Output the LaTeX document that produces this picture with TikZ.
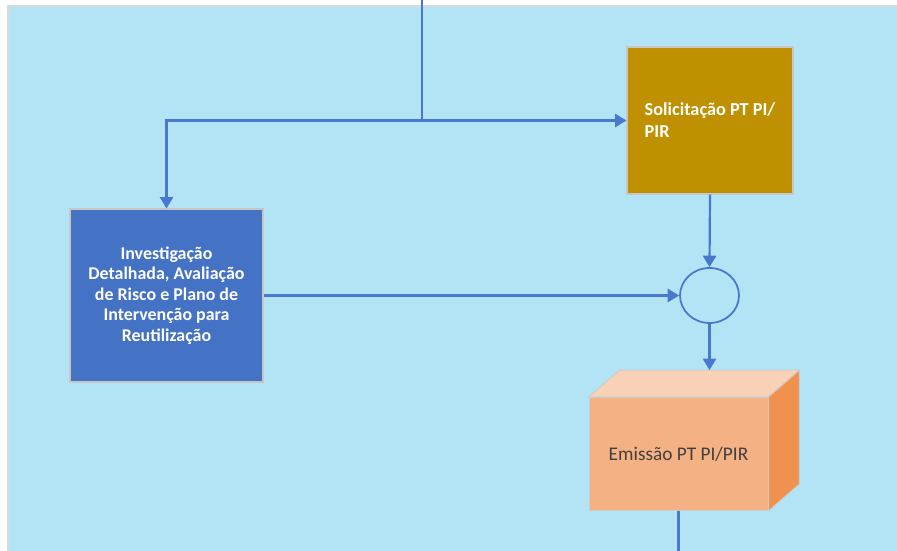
\documentclass[tikz,border=0pt]{standalone}
\usepackage{fontspec}
\setmainfont{Carlito}
\usetikzlibrary{arrows.meta,shapes.geometric}
\definecolor{bgblue}{HTML}{B2E4F6}
\definecolor{lineblue}{HTML}{4A78CE}
\definecolor{boxblue}{HTML}{4472C4}
\definecolor{boxgold}{HTML}{BF9000}
\definecolor{cubefront}{HTML}{F4B183}
\definecolor{cubetop}{HTML}{F8D1B6}
\definecolor{cubeside}{HTML}{F0914F}
\tikzset{flow/.style={draw=lineblue, line width=1.25pt, -{Triangle[width=7.5pt,length=6.5pt]}},
  plain/.style={draw=lineblue, line width=1.25pt},
  task/.style={rectangle, draw=gray!45, line width=0.6pt, text=white, font=\fontsize{10.2}{11.6}\selectfont\bfseries, inner sep=0pt},
  face/.style={draw=gray!40, line width=0.5pt}}

\begin{document}
\begin{tikzpicture}[x=0.02cm, y=-0.02cm]
   \useasboundingbox (0,0) rectangle (897,551);
   \fill[white] (0,0) rectangle (897,551);
   \fill[bgblue] (8,6) rectangle (897,551);
   \draw[gray!30, line width=1pt] (8,551) -- (8,6) -- (897,6);
   \node[task, fill=boxgold, minimum width=3.32cm, minimum height=2.94cm, align=left,
         font=\fontsize{10.4}{12.5}\selectfont\bfseries] (solic) at (710,120.5) {Solicitação PT PI/\\PIR};
   \node[task, fill=boxblue, minimum width=3.86cm, minimum height=3.46cm, align=center] (invest) at (166.5,295.5)
        {Investigação\\Detalhada, Avaliação\\de Risco e Plano de\\Intervenção para\\Reutilização};
   \node[ellipse, draw=lineblue, line width=1pt, minimum width=1.18cm, minimum height=1.1cm, inner sep=0pt] (merge) at (709.5,295.5) {};
   \node[face, fill=cubefront, minimum width=3.58cm, minimum height=2.26cm, inner sep=0pt, text=black!75,
         font=\fontsize{11}{13}\selectfont] (emis) at (678.5,454) {Emissão PT PI/PIR};
   \filldraw[face, fill=cubetop] (emis.north west) -- ([shift={(31,-27)}]emis.north west)
        -- ([shift={(31,-27)}]emis.north east) -- (emis.north east) -- cycle;
   \filldraw[face, fill=cubeside] (emis.north east) -- ([shift={(31,-27)}]emis.north east)
        -- ([shift={(31,-27)}]emis.south east) -- (emis.south east) -- cycle;
   \coordinate (top) at (422,0);
   \coordinate (split) at (422,120.5);
   \coordinate (emistop) at ([shift={(31,-27)}]emis.north);
   \coordinate (bot) at (678.5,551);
   \draw[plain] (top) -- (split);
   \draw[flow] (split) -- (solic.west);
   \draw[flow] (split) -| (invest.north);
   \draw[flow] (solic.south) -- (merge.north);
   \draw[flow] (invest.east) -- (merge.west);
   \draw[flow] (merge.south) -- (emistop);
   \draw[plain] (emis.south) -- (bot);
\end{tikzpicture}
\end{document}
